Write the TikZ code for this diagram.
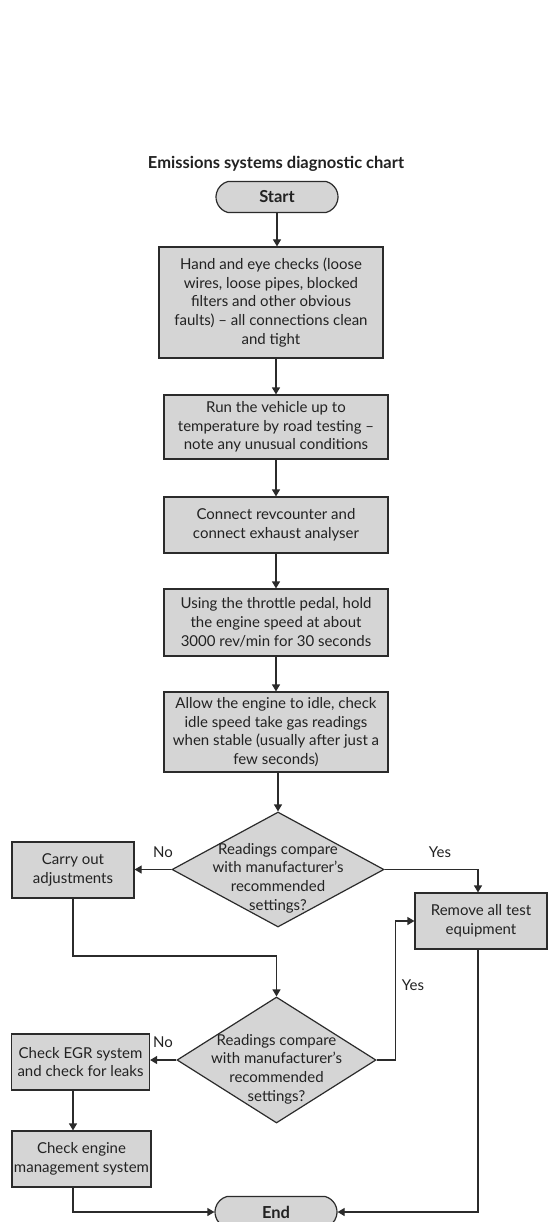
\documentclass[tikz,border=0pt]{standalone}
\usepackage{fontspec}
\setmainfont{Lato}
\usetikzlibrary{shapes.geometric,shapes.misc,arrows.meta}
\definecolor{boxfill}{HTML}{D5D5D5}
\definecolor{linec}{HTML}{2B2B2B}
\definecolor{txt}{HTML}{222222}
\begin{document}
\begin{tikzpicture}[x=1pt,y=-1pt,
  every node/.style={font=\fontsize{15}{18.7}\selectfont, text=txt},
  stepbox/.style={draw=linec, fill=boxfill, line width=1.2pt, inner sep=0pt, align=center},
  termbox/.style={rounded rectangle, rounded rectangle arc length=150, draw=linec, fill=boxfill, line width=1.2pt, inner sep=0pt, minimum width=122pt, minimum height=31pt, font=\bfseries\fontsize{16.5}{18}\selectfont},
  decbox/.style={diamond, draw=linec, fill=boxfill, line width=1.2pt, inner sep=0pt},
  dectext/.style={align=center, inner sep=0pt},
  lbl/.style={inner sep=0pt},
  conn/.style={draw=linec, line width=1.2pt, -{Triangle[length=7pt,width=8pt]}},
  plain/.style={draw=linec, line width=1.2pt}]
\fill[white] (0,0) rectangle (554,1222);
\useasboundingbox (0,0) rectangle (554,1222);

\node[font=\bfseries\fontsize{16.5}{18}\selectfont] (title) at (276,164) {Emissions systems diagnostic chart};
\node[termbox] (start) at (277,197) {Start};
\node[stepbox, minimum width=224pt, minimum height=111pt] (b1) at (271,302.5) {Hand and eye checks (loose\\wires, loose pipes, blocked\\filters and other obvious\\faults) – all connections clean\\and tight};
\node[stepbox, minimum width=224pt, minimum height=64pt] (b2) at (276,427) {Run the vehicle up to\\temperature by road testing –\\note any unusual conditions};
\node[stepbox, minimum width=224pt, minimum height=56pt] (b3) at (276,525) {Connect revcounter and\\connect exhaust analyser};
\node[stepbox, minimum width=224pt, minimum height=67pt] (b4) at (276,622.5) {Using the throttle pedal, hold\\the engine speed at about\\3000 rev/min for 30 seconds};
\node[stepbox, minimum width=224pt, minimum height=80pt] (b5) at (276,732) {Allow the engine to idle, check\\idle speed take gas readings\\when stable (usually after just a\\few seconds)};

\node[decbox, minimum width=212pt, minimum height=115pt] (d1) at (278,869.5) {};
\node[dectext] (d1t) at (278,878) {Readings compare\\with manufacturer’s\\recommended\\settings?};
\node[stepbox, minimum width=122pt, minimum height=56pt] (carry) at (73,870) {Carry out\\adjustments};
\node[stepbox, minimum width=132pt, minimum height=56pt] (remove) at (481,921) {Remove all test\\equipment};

\node[decbox, minimum width=199pt, minimum height=126pt] (d2) at (276.5,1060) {};
\node[dectext] (d2t) at (276.5,1069) {Readings compare\\with manufacturer’s\\recommended\\settings?};
\node[stepbox, minimum width=138pt, minimum height=56pt] (egr) at (80.5,1062) {Check EGR system\\and check for leaks};
\node[stepbox, minimum width=139pt, minimum height=56pt] (eng) at (81.5,1159) {Check engine\\management system};
\node[termbox] (end) at (276,1212) {End};

\node[lbl] (no1) at (163,852) {No};
\node[lbl] (yes1) at (440,852) {Yes};
\node[lbl] (no2) at (163,1042) {No};
\node[lbl] (yes2) at (413,985) {Yes};

\coordinate (lx) at (73,0);
\coordinate (rx) at (478,0);
\coordinate (j1) at (73,956);

\draw[conn] (start.south) -- (start.south |- b1.north);
\draw[conn] (b1.south -| b2.north) -- (b2.north);
\draw[conn] (b2.south) -- (b3.north);
\draw[conn] (b3.south) -- (b4.north);
\draw[conn] (b4.south) -- (b5.north);
\draw[conn] (b5.south -| d1.north) -- (d1.north);
\draw[conn] (d1.west) -- (d1.west -| carry.east);
\draw[conn] (d1.east) -| (remove.north -| rx);
\draw[conn] (carry.south) -- (j1) -| (d2.north);
\draw[conn] (d2.west) -- (d2.west -| egr.east);
\draw[conn] (d2.east) -- ++(19,0) |- (remove.west);
\draw[conn] (egr.south -| lx) -- (eng.north -| lx);
\draw[conn] (eng.south -| lx) |- (end.west);
\draw[conn] (remove.south -| rx) |- (end.east);
\end{tikzpicture}
\end{document}
